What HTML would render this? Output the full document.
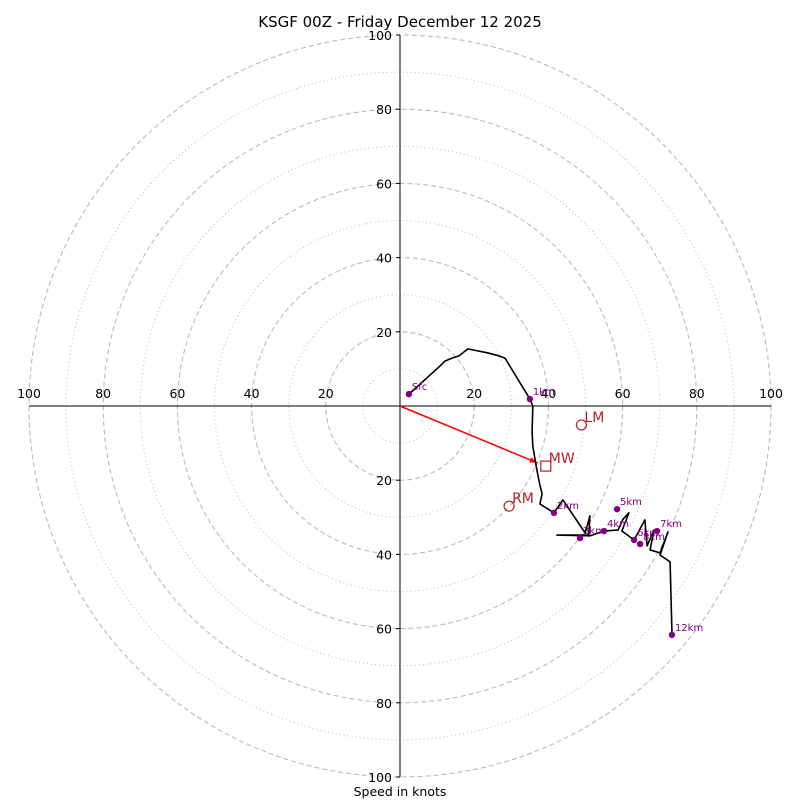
<!DOCTYPE html>
<html><head><meta charset="utf-8"><style>body{margin:0;background:#fff}svg{display:block;font-family:"DejaVu Sans","Liberation Sans",sans-serif}</style></head>
<body>
<svg id="c" width="800" height="800" xmlns="http://www.w3.org/2000/svg">
<text x="400" y="27" text-anchor="middle" font-size="15">KSGF 00Z - Friday December 12 2025</text>
<text x="400" y="796" text-anchor="middle" font-size="12.5">Speed in knots</text>
</svg>
<script>
const ringValues=[10,20,30,40,50,60,70,80,90,100];
const tickValues=[20,40,60,80,100];
const pathU=[2.4,5.4,10.8,12.1,14.0,15.9,18.3,23.7,26.7,28.3,35.0,35.8,35.6,35.8,36.7,37.7,38.3,37.7,41.5,43.9,49.9,51.2,50.9,42.3,51.2,55.0,58.8,60.1,61.7,59.8,63.1,66.0,66.6,68.5,67.4,70.1,72.2,70.1,72.8,73.3];
const pathV=[3.2,5.9,10.8,12.1,12.9,13.5,15.4,14.3,13.5,12.9,1.9,0,-7.0,-10.8,-16.2,-21.3,-23.7,-26.4,-28.8,-25.3,-34.2,-29.6,-34.8,-34.8,-35.0,-33.7,-33.4,-30.5,-28.8,-33.7,-36.1,-30.7,-37.7,-33.4,-38.8,-39.6,-34.0,-40.2,-42.0,-60.9];
const markLabels=["Sfc","1km","2km","3km","4km","5km","6km","8km","7km","12km"];
const markU=[2.4,35.0,41.5,48.5,55.0,58.5,63.1,64.7,69.3,73.3];
const markV=[3.2,1.9,-28.8,-35.6,-33.7,-27.8,-36.1,-37.2,-33.7,-61.7];
const motionLabels=["LM","MW","RM"];
const motionU=[48.9,39.3,29.4];
const motionV=[-5.1,-16.2,-27.0];
const meanWindU=37.0, meanWindV=-15.3;

const NS="http://www.w3.org/2000/svg",svg=document.getElementById('c');
const cx=400,cy=406,k=3.71;
const X=u=>cx+u*k, Y=v=>cy-v*k;
function mk(t,a,p){const e=document.createElementNS(NS,t);for(const q in a)e.setAttribute(q,a[q]);(p||svg).appendChild(e);return e;}
ringValues.forEach(r=>{
 const e=mk('circle',{cx:cx,cy:cy,r:r*k,fill:'none',stroke:'#bbb','stroke-width':r%20?1:1.1,'stroke-dasharray':r%20?'1,3':'5,3'});
 
 
});
let a=mk('line',{x1:X(-100),y1:cy,x2:X(100),y2:cy,stroke:'#000','stroke-width':1});


a=mk('line',{x1:cx,y1:Y(100),x2:cx,y2:Y(-100),stroke:'#000','stroke-width':1});


tickValues.forEach(t=>{
 [t,-t].forEach(s=>{
  let e=mk('text',{x:X(s),y:cy-8,'text-anchor':'middle','font-size':12.5});e.textContent=t;
  
  
  mk('line',{x1:cx,y1:Y(s),x2:cx-4,y2:Y(s),stroke:'#000'});
  e=mk('text',{x:cx-8,y:Y(s)+5,'text-anchor':'end','font-size':12.5});e.textContent=t;
  
  
 });
});
let ar=mk('line',{x1:X(0),y1:Y(0),x2:X(meanWindU),y2:Y(meanWindV),stroke:'#f00','stroke-width':1.5});


const ang=Math.atan2(Y(meanWindV)-Y(0),X(meanWindU)-X(0));
const hx=X(meanWindU),hy=Y(meanWindV);
let ah=mk('polygon',{points:`${hx},${hy} ${hx-8*Math.cos(ang-0.35)},${hy-8*Math.sin(ang-0.35)} ${hx-8*Math.cos(ang+0.35)},${hy-8*Math.sin(ang+0.35)}`,fill:'#f00'});


let p=mk('polyline',{points:pathU.map((u,i)=>X(u)+','+Y(pathV[i])).join(' '),fill:'none',stroke:'#000','stroke-width':1.6,'stroke-linejoin':'round'});


markLabels.forEach((l,i)=>{
 let c=mk('circle',{cx:X(markU[i]),cy:Y(markV[i]),r:3.2,fill:'#800080'});
 
 
 let t=mk('text',{x:X(markU[i])+3,y:Y(markV[i])-4,'font-size':10,fill:'#800080'});t.textContent=l;
 
 
});
motionLabels.forEach((l,i)=>{
 const x=X(motionU[i]),y=Y(motionV[i]);
 let m=l==='MW'?mk('rect',{x:x-5,y:y-5,width:10,height:10,fill:'none',stroke:'#b22222','stroke-width':1.2}):mk('circle',{cx:x,cy:y,r:5,fill:'none',stroke:'#b22222','stroke-width':1.2});
 
 
 let t=mk('text',{x:x+3,y:y-3,'font-size':14,fill:'#b22222'});t.textContent=l;
 
 
});
</script>
</body></html>
